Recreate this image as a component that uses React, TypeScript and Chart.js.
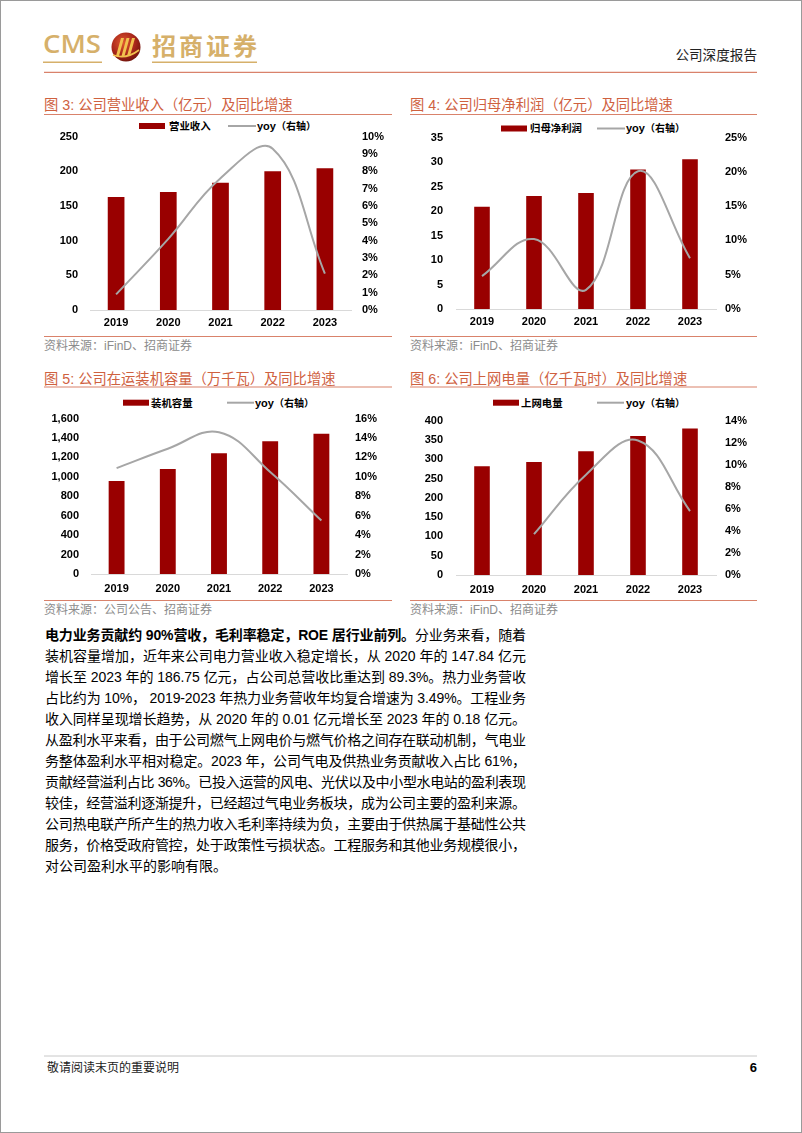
import React, { useEffect, useRef } from "react";
import { Chart, registerables } from "chart.js";

Chart.register(...registerables);

// ---------------- data ----------------
const years = ["2019", "2020", "2021", "2022", "2023"];

const revenue = [163, 170, 183.5, 200, 204.4];
const revenueYoy = [0.9, 4.1, 7.6, 9.3, 2.1];

const netProfit = [20.9, 23.1, 23.7, 28.5, 30.6];
const netProfitYoy = [4.8, 10.2, 2.8, 20.1, 7.4];

const capacity = [958, 1082, 1244, 1368, 1445];
const capacityYoy = [10.9, 12.9, 14.6, 10.5, 5.5];

const gridPower = [281.6, 292.6, 320.5, 360, 379.7];
const gridPowerYoy: (number | null)[] = [null, 3.7, 9.1, 12.2, 5.8];

const titles = [
  "图 3: 公司营业收入（亿元）及同比增速",
  "图 4: 公司归母净利润（亿元）及同比增速",
  "图 5: 公司在运装机容量（万千瓦）及同比增速",
  "图 6: 公司上网电量（亿千瓦时）及同比增速",
];
const barLabels = ["营业收入", "归母净利润", "装机容量", "上网电量"];
const yoyLabel = "yoy";
const yoyAxisLabel = "（右轴）";
const sources = [
  "资料来源：iFinD、招商证券",
  "资料来源：iFinD、招商证券",
  "资料来源：公司公告、招商证券",
  "资料来源：iFinD、招商证券",
];

const bodyBold = "电力业务贡献约 90%营收，毛利率稳定，ROE 居行业前列。";
const bodyFirstRest = "分业务来看，随着";
const bodyLines = [
  "装机容量增加，近年来公司电力营业收入稳定增长，从 2020 年的 147.84 亿元",
  "增长至 2023 年的 186.75 亿元，占公司总营收比重达到 89.3%。热力业务营收",
  "占比约为 10%， 2019-2023 年热力业务营收年均复合增速为 3.49%。工程业务",
  "收入同样呈现增长趋势，从 2020 年的 0.01 亿元增长至 2023 年的 0.18 亿元。",
  "从盈利水平来看，由于公司燃气上网电价与燃气价格之间存在联动机制，气电业",
  "务整体盈利水平相对稳定。2023 年，公司气电及供热业务贡献收入占比 61%，",
  "贡献经营溢利占比 36%。已投入运营的风电、光伏以及中小型水电站的盈利表现",
  "较佳，经营溢利逐渐提升，已经超过气电业务板块，成为公司主要的盈利来源。",
  "公司热电联产所产生的热力收入毛利率持续为负，主要由于供热属于基础性公共",
  "服务，价格受政府管控，处于政策性亏损状态。工程服务和其他业务规模很小，",
  "对公司盈利水平的影响有限。",
];

// ---------------- styles ----------------
const BAR = "#990000";
const LINE = "#a6a6a6";
const TITLE = "#cf613f";
const RULE = "#d9826b";
const GOLD = "#d6b06a";
const CJK = "'Noto Sans CJK SC', sans-serif";
const MIX = "'Liberation Sans', Arial, 'Noto Sans CJK SC', sans-serif";

type Geo = {
  left: number; top: number; width: number; height: number;
  leftW: number; rightW: number; topPad: number; bottomH: number;
  leftPad: number; rightPad: number; xPad: number; barPct: number;
};

type ComboProps = {
  bars: number[]; yoy: (number | null)[]; barLabel: string;
  leftMax: number; leftStep: number; rightMax: number; rightStep: number;
  thousands?: boolean; geo: Geo;
};

function ComboChart(p: ComboProps) {
  const ref = useRef<HTMLCanvasElement>(null);
  useEffect(() => {
    const g = p.geo;
    const font = { family: "'Liberation Sans', Arial, sans-serif", size: 11, weight: "bold" as const };
    const chart = new Chart(ref.current!, {
      type: "bar",
      data: {
        labels: years,
        datasets: [
          {
            type: "line",
            label: yoyLabel,
            data: p.yoy,
            yAxisID: "y1",
            borderColor: LINE,
            borderWidth: 2,
            pointRadius: 0,
            tension: 0.4,
            fill: false,
            order: 0,
            clip: false,
          } as any,
          {
            type: "bar",
            label: p.barLabel,
            data: p.bars,
            yAxisID: "y",
            backgroundColor: BAR,
            borderWidth: 0,
            barPercentage: g.barPct,
            categoryPercentage: 1,
            order: 1,
          },
        ],
      },
      options: {
        responsive: false,
        maintainAspectRatio: false,
        animation: false,
        devicePixelRatio: 1,
        layout: { padding: { top: g.topPad, left: 0, right: 0, bottom: 0 } },
        plugins: { legend: { display: false }, tooltip: { enabled: false } },
        scales: {
          x: {
            grid: { display: false, drawTicks: false },
            border: { display: true, color: "#d9d9d9", width: 1 },
            ticks: { padding: g.xPad, font, color: "#000", autoSkip: false, maxRotation: 0 },
            afterFit: (a: any) => { a.height = g.bottomH; },
          },
          y: {
            position: "left",
            min: 0,
            max: p.leftMax,
            grid: { display: false, drawTicks: false },
            border: { display: false },
            ticks: {
              stepSize: p.leftStep,
              padding: g.leftPad,
              font,
              color: "#000",
              autoSkip: false,
              callback: (v: any) => (p.thousands ? Number(v).toLocaleString("en-US") : String(v)),
            },
            afterFit: (a: any) => { a.width = g.leftW; },
          },
          y1: {
            position: "right",
            min: 0,
            max: p.rightMax,
            grid: { display: false, drawTicks: false },
            border: { display: false },
            ticks: {
              stepSize: p.rightStep,
              padding: g.rightPad,
              font,
              color: "#000",
              autoSkip: false,
              callback: (v: any) => `${v}%`,
            },
            afterFit: (a: any) => { a.width = g.rightW; },
          },
        },
      } as any,
    });
    return () => chart.destroy();
  }, []);
  const g = p.geo;
  return (
    <canvas
      ref={ref}
      width={g.width}
      height={g.height}
      style={{ position: "absolute", left: g.left, top: g.top, width: g.width, height: g.height }}
    />
  );
}

const geo3: Geo = { left: 40, top: 118, width: 356, height: 216, leftW: 50, rightW: 45, topPad: 16, bottomH: 24, leftPad: 12, rightPad: 11, xPad: 6, barPct: 0.32 };
const geo4: Geo = { left: 406, top: 118, width: 355, height: 215, leftW: 50, rightW: 45, topPad: 16, bottomH: 24, leftPad: 13, rightPad: 9, xPad: 6, barPct: 0.3 };
const geo5: Geo = { left: 41, top: 400, width: 351, height: 198, leftW: 50, rightW: 45, topPad: 16, bottomH: 24, leftPad: 12, rightPad: 8, xPad: 8, barPct: 0.31 };
const geo6: Geo = { left: 406, top: 401, width: 355, height: 198, leftW: 50, rightW: 45, topPad: 16, bottomH: 24, leftPad: 13, rightPad: 9, xPad: 8, barPct: 0.3 };

function Legend({ cy, sw, tx, lx1, lx2, yx, label }: { cy: number; sw: number; tx: number; lx1: number; lx2: number; yx: number; label: string }) {
  return (
    <g>
      <rect x={sw} y={cy - 3} width={26} height={6} fill={BAR} />
      <text x={tx} y={cy + 3.8} fontFamily={CJK} fontSize={10.4} fontWeight="bold" fill="#000">{label}</text>
      <line x1={lx1} x2={lx2} y1={cy} y2={cy} stroke={LINE} strokeWidth={2} />
      <text x={yx} y={cy + 3.8} fontFamily={MIX} fontSize={11} fontWeight="bold" fill="#000">
        {yoyLabel}
        <tspan fontFamily={CJK} fontSize={10}>{yoyAxisLabel}</tspan>
      </text>
    </g>
  );
}

function ChartFrame({ x, w, titleY, ruleY, srcRuleY, srcY, title, source }: { x: number; w: number; titleY: number; ruleY: number; srcRuleY: number; srcY: number; title: string; source: string }) {
  return (
    <g>
      <text x={x} y={titleY} fontFamily={MIX} fontSize={14.3} fill={TITLE}>{title}</text>
      <line x1={x} x2={x + w} y1={ruleY} y2={ruleY} stroke={RULE} strokeWidth={1.2} />
      <line x1={x} x2={x + w} y1={srcRuleY} y2={srcRuleY} stroke={RULE} strokeWidth={1.2} />
      <text x={x} y={srcY} fontFamily={MIX} fontSize={12} fill="#8c8c8c">{source}</text>
    </g>
  );
}

export default function App() {
  return (
    <div style={{ position: "absolute", left: 0, top: 0, width: 802, height: 1133, background: "#fff", overflow: "hidden" }}>
      <svg width={802} height={1133} style={{ position: "absolute", left: 0, top: 0 }}>
        <defs>
          <radialGradient id="logoG" cx="40%" cy="35%" r="70%">
            <stop offset="0%" stopColor="#e0582e" />
            <stop offset="60%" stopColor="#a8261a" />
            <stop offset="100%" stopColor="#6e140c" />
          </radialGradient>
        </defs>
        <rect x={0.5} y={0.5} width={801} height={1132} fill="none" stroke="#9a9a9a" strokeWidth={1} />

        {/* header */}
        <text x={43} y={53.3} fontFamily="'Open Sans', sans-serif" fontWeight={600} fontSize={26} fill={GOLD} textLength={58} lengthAdjust="spacingAndGlyphs">CMS</text>
        <line x1={43} x2={102} y1={62.3} y2={62.3} stroke={GOLD} strokeWidth={1.5} />
        <circle cx={126} cy={47} r={14.5} fill="url(#logoG)" />
        <path d="M116 56 L121 38 L124 38 L119 56 Z M121.5 56 L126.5 38 L129.5 38 L124.5 56 Z M127 56 L132 38 L135 38 L130 56 Z" fill="#f2c14e" />
        <path d="M113 55 Q126 60 139 50" stroke="#f2c14e" strokeWidth={1.6} fill="none" />
        <text x={152} y={54.6} fontFamily={CJK} fontWeight="bold" fontSize={24} fill={GOLD} textLength={105} lengthAdjust="spacing">招商证券</text>
        <line x1={152} x2={257} y1={62.3} y2={62.3} stroke={GOLD} strokeWidth={1.5} />
        <text x={757} y={60} textAnchor="end" fontFamily={CJK} fontSize={13.6} fill="#222">公司深度报告</text>
        <line x1={44} x2={757} y1={72.3} y2={72.3} stroke={RULE} strokeWidth={1.2} />

        {/* chart frames */}
        <ChartFrame x={44} w={348} titleY={110} ruleY={114.5} srcRuleY={336.5} srcY={349.5} title={titles[0]} source={sources[0]} />
        <ChartFrame x={410} w={347} titleY={110} ruleY={114.5} srcRuleY={336.5} srcY={349.5} title={titles[1]} source={sources[1]} />
        <ChartFrame x={44} w={348} titleY={383.5} ruleY={387} srcRuleY={600.5} srcY={613.7} title={titles[2]} source={sources[2]} />
        <ChartFrame x={410} w={347} titleY={383.5} ruleY={387} srcRuleY={600.5} srcY={613.7} title={titles[3]} source={sources[3]} />

        {/* legends */}
        <Legend cy={126} sw={139} tx={169} lx1={228} lx2={256} yx={257} label={barLabels[0]} />
        <Legend cy={128.5} sw={501} tx={530} lx1={597} lx2={625} yx={626} label={barLabels[1]} />
        <Legend cy={402.7} sw={123} tx={151} lx1={227} lx2={254} yx={255} label={barLabels[2]} />
        <Legend cy={402.7} sw={493} tx={521} lx1={597} lx2={624} yx={626} label={barLabels[3]} />

        {/* body text */}
        <text x={45} y={639.7} fontFamily={MIX} fontSize={14} fill="#000" textLength={481} lengthAdjust="spacing">
          <tspan fontWeight="bold">{bodyBold}</tspan>
          <tspan>{bodyFirstRest}</tspan>
        </text>
        {bodyLines.map((t, i) => (
          <text
            key={i}
            x={45}
            y={639.7 + 21 * (i + 1)}
            fontFamily={MIX}
            fontSize={14}
            fill="#000"
            {...(i < bodyLines.length - 1 ? { textLength: 481, lengthAdjust: "spacing" } : {})}
          >
            {t}
          </text>
        ))}

        {/* footer */}
        <line x1={44} x2={757} y1={1056} y2={1056} stroke="#c8c8c8" strokeWidth={1} />
        <text x={47} y={1071.5} fontFamily={CJK} fontSize={12} fill="#222">敬请阅读末页的重要说明</text>
        <text x={757} y={1072} textAnchor="end" fontFamily="'Liberation Sans', Arial, sans-serif" fontWeight="bold" fontSize={13} fill="#000">6</text>
      </svg>

      <ComboChart bars={revenue} yoy={revenueYoy} barLabel={barLabels[0]} leftMax={250} leftStep={50} rightMax={10} rightStep={1} geo={geo3} />
      <ComboChart bars={netProfit} yoy={netProfitYoy} barLabel={barLabels[1]} leftMax={35} leftStep={5} rightMax={25} rightStep={5} geo={geo4} />
      <ComboChart bars={capacity} yoy={capacityYoy} barLabel={barLabels[2]} leftMax={1600} leftStep={200} rightMax={16} rightStep={2} thousands geo={geo5} />
      <ComboChart bars={gridPower} yoy={gridPowerYoy} barLabel={barLabels[3]} leftMax={400} leftStep={50} rightMax={14} rightStep={2} geo={geo6} />
    </div>
  );
}
